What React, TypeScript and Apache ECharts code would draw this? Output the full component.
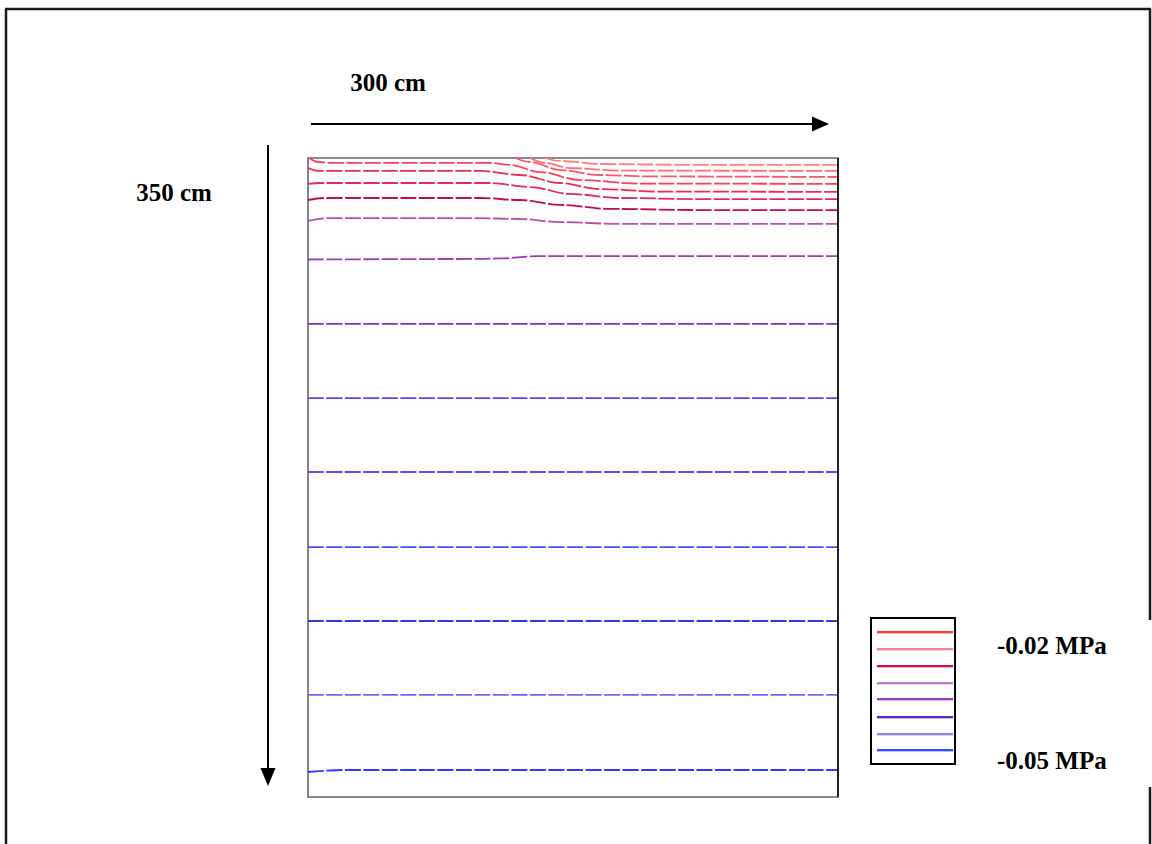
import React, { useEffect, useRef } from "react";
import * as echarts from "echarts";

// Domain: 300 cm wide, 350 cm deep; contour lines of suction (MPa)
const widthCm = 300;
const depthCm = 350;

const xLabel = "300 cm";
const yLabel = "350 cm";
const legendLabels = ["-0.02 MPa", "-0.05 MPa"];

// Contour lines: [x (cm), depth (cm)] pairs (top to bottom)
const contourLines: number[][][] = [
  [[134.2, 0], [142.6, 1.6], [165.3, 3.3], [221.9, 3.8], [300, 3.8]],
  [[125.7, 0], [134.2, 2.7], [148.3, 5.5], [176.6, 6.9], [300, 7.1]],
  [[117.2, 0], [125.7, 2.2], [142.6, 6.6], [165.3, 9.3], [193.6, 10.1], [300, 10.4]],
  [[1.1, 0.3], [5.7, 2.2], [12.5, 2.7], [103.0, 2.7], [114.3, 3.8], [131.3, 7.7], [154.0, 12.1], [187.9, 14.0], [300, 14.2]],
  [[0, 5.5], [6.8, 7.1], [97.4, 7.1], [120.0, 9.3], [142.6, 13.7], [165.3, 17.0], [199.2, 18.4], [300, 18.6]],
  [[0, 14.2], [6.8, 13.7], [103.0, 13.7], [125.7, 15.9], [148.3, 19.7], [176.6, 21.9], [221.9, 22.5], [300, 22.5]],
  [[0, 23.0], [9.6, 21.9], [97.4, 21.9], [120.0, 23.0], [142.6, 25.7], [170.9, 27.9], [221.9, 28.5], [300, 28.5]],
  [[0, 34.5], [12.5, 32.9], [91.7, 32.9], [120.0, 33.4], [142.6, 35.1], [176.6, 36.1], [300, 36.1]],
  [[0, 55.6], [97.4, 55.3], [108.7, 55.0], [131.3, 53.7], [300, 53.7]],
  [[0, 90.9], [300, 90.9]],
  [[0, 131.5], [300, 131.5]],
  [[0, 172.0], [300, 172.0]],
  [[0, 213.1], [300, 213.1]],
  [[0, 253.6], [300, 253.6]],
  [[0, 294.1], [300, 294.1]],
  [[0, 336.3], [20.9, 335.2], [300, 335.2]],
];

const contourColors = [
  "#ff8080", "#ff6e74", "#ff5566", "#ff3d5a", "#f02a4e", "#dc2a64",
  "#c40e4a", "#b452aa", "#9a3cb8", "#7436cc", "#6446dc", "#5a4ee8",
  "#4c4cf0", "#3838d0", "#6a6af0", "#3838ff",
];

const legendColors = [
  "#ff3b3b", "#ee8496", "#c0145a", "#c07ac0",
  "#9a3cc0", "#5428c8", "#8a88ec", "#3a48ff",
];

const serif = "'Liberation Serif', 'Times New Roman', serif";

export default function App() {
  const ref = useRef<HTMLDivElement>(null);

  useEffect(() => {
    if (!ref.current) return;
    const chart = echarts.init(ref.current, undefined, { renderer: "svg" });

    const gl = 308, gt = 158, gw = 530, gh = 639;

    const legendY = [632, 649, 666, 683, 699, 717, 734, 750];
    const legendGraphics: any[] = [];
    legendColors.forEach((c, i) => {
      legendGraphics.push({
        type: "line",
        shape: { x1: 877, y1: legendY[i] + 1.5, x2: 953, y2: legendY[i] + 1.5 },
        style: { stroke: c, lineWidth: 1, opacity: 0.35 },
      });
      legendGraphics.push({
        type: "line",
        shape: { x1: 877, y1: legendY[i], x2: 953, y2: legendY[i] },
        style: { stroke: c, lineWidth: 2 },
      });
    });

    const option: any = {
      animation: false,
      backgroundColor: "#ffffff",
      grid: {
        left: gl,
        top: gt,
        width: gw,
        height: gh,
        show: true,
        backgroundColor: "#fdfdfd",
        borderColor: "#666666",
        borderWidth: 1.6,
      },
      xAxis: {
        type: "value",
        min: 0,
        max: widthCm,
        show: false,
      },
      yAxis: {
        type: "value",
        min: 0,
        max: depthCm,
        inverse: true,
        show: false,
      },
      series: contourLines.map((pts, i) => ({
        type: "line",
        data: pts,
        showSymbol: false,
        smooth: 0.35,
        smoothMonotone: "x",
        clip: true,
        lineStyle: { color: contourColors[i], width: 1.8, type: [16, 2.5] },
      })),
      graphic: [
        // outer frame
        { type: "line", shape: { x1: 6, y1: 9, x2: 6, y2: 844 }, style: { stroke: "#1a1a1a", lineWidth: 2.5 } },
        { type: "line", shape: { x1: 5, y1: 9, x2: 1151, y2: 9 }, style: { stroke: "#1a1a1a", lineWidth: 2.5 } },
        { type: "line", shape: { x1: 1150, y1: 9, x2: 1150, y2: 620 }, style: { stroke: "#1a1a1a", lineWidth: 2.5 } },
        { type: "line", shape: { x1: 1150, y1: 787, x2: 1150, y2: 844 }, style: { stroke: "#1a1a1a", lineWidth: 2.5 } },
        // plot right edge
        { type: "line", shape: { x1: gl + gw, y1: gt, x2: gl + gw, y2: gt + gh }, style: { stroke: "#000", lineWidth: 1.5 }, z: 100 },
        // horizontal arrow
        { type: "line", shape: { x1: 311, y1: 124, x2: 815, y2: 124 }, style: { stroke: "#000", lineWidth: 2 } },
        { type: "polygon", shape: { points: [[812, 116.5], [829, 124], [812, 131.5]] }, style: { fill: "#000" } },
        // vertical arrow
        { type: "line", shape: { x1: 268, y1: 145, x2: 268, y2: 772 }, style: { stroke: "#000", lineWidth: 2 } },
        { type: "polygon", shape: { points: [[260.5, 768], [268, 786], [275.5, 768]] }, style: { fill: "#000" } },
        // labels
        {
          type: "text", x: 388, y: 82,
          style: { text: xLabel, font: `bold 25px ${serif}`, fill: "#000", align: "center", verticalAlign: "middle" },
        },
        {
          type: "text", x: 174, y: 192,
          style: { text: yLabel, font: `bold 25px ${serif}`, fill: "#000", align: "center", verticalAlign: "middle" },
        },
        // legend box
        { type: "rect", shape: { x: 871, y: 618, width: 84, height: 146 }, style: { fill: "#fff", stroke: "#000", lineWidth: 2 } },
        ...legendGraphics,
        {
          type: "text", x: 997, y: 645,
          style: { text: legendLabels[0], font: `bold 25px ${serif}`, fill: "#000", align: "left", verticalAlign: "middle" },
        },
        {
          type: "text", x: 997, y: 760,
          style: { text: legendLabels[1], font: `bold 25px ${serif}`, fill: "#000", align: "left", verticalAlign: "middle" },
        },
      ],
    };

    chart.setOption(option);
    return () => chart.dispose();
  }, []);

  return (
    <div
      ref={ref}
      style={{ position: "absolute", left: 0, top: 0, width: 1152, height: 844 }}
    />
  );
}
